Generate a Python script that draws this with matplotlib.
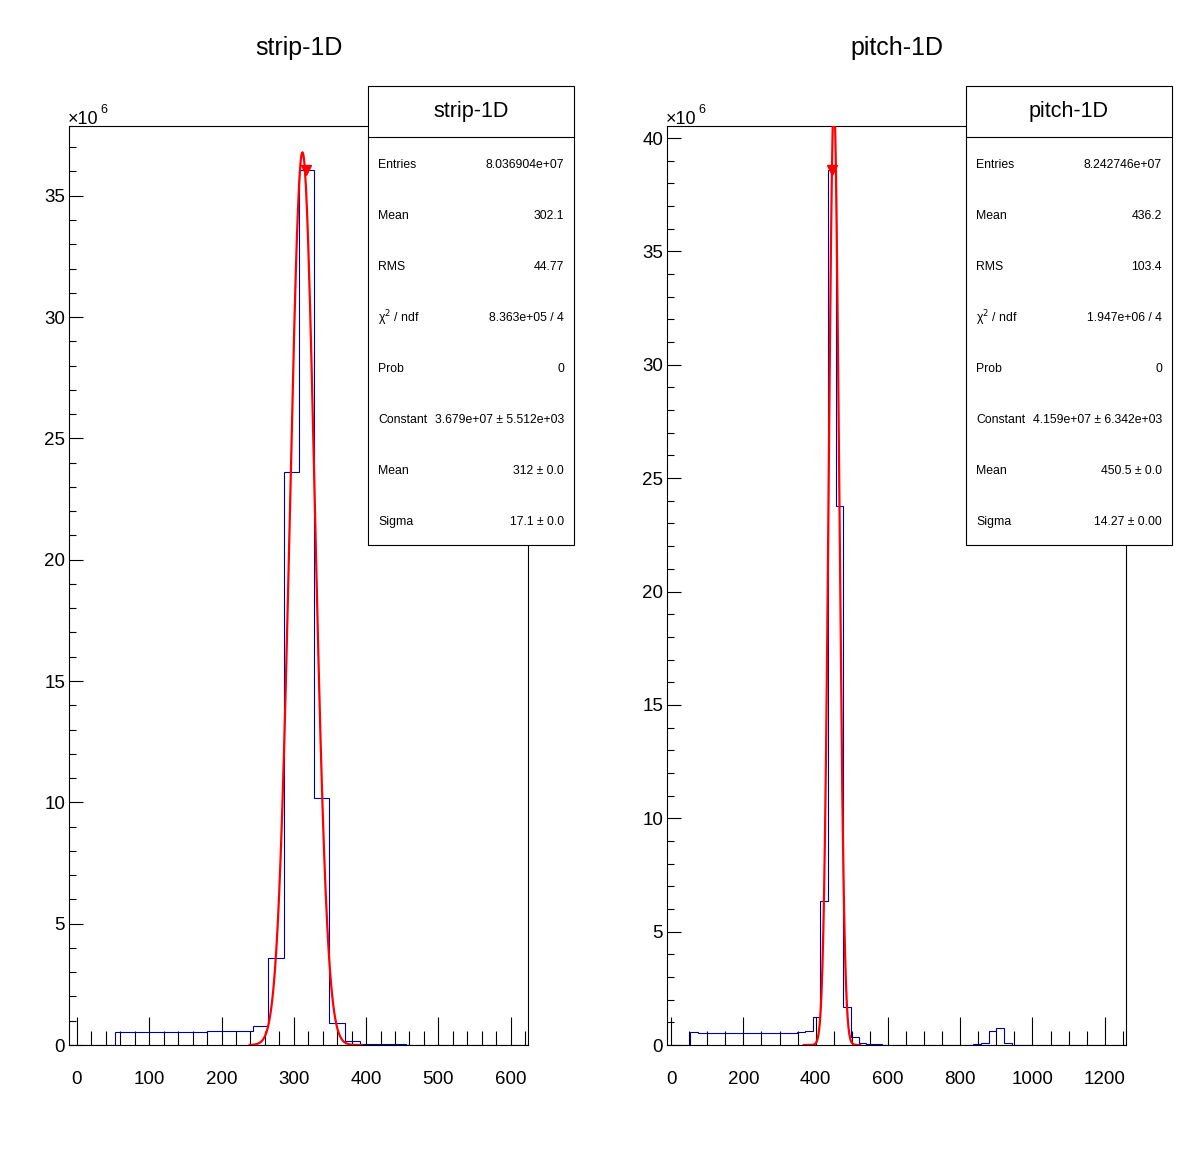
import matplotlib
matplotlib.use('Agg')
import matplotlib.pyplot as plt
import numpy as np
from matplotlib.patches import Rectangle
from matplotlib.lines import Line2D
from matplotlib.ticker import MultipleLocator, FuncFormatter

plt.rcParams.update({
    'font.family': ['Liberation Sans', 'DejaVu Sans'],
    'axes.linewidth': 0.8,
})

# ── data (counts in units of 1e6) ─────────────────────────────────
STRIP_RANGE = (-10.6, 624.5)
STRIP_COUNTS = [
    0, 0, 0, 0.52, 0.52, 0.52, 0.52, 0.52, 0.52, 0.58,
    0.58, 0.58, 0.77, 3.57, 23.61, 36.07, 10.17, 0.89, 0.15, 0.03,
    0.03, 0.03, 0, 0, 0, 0, 0, 0, 0, 0,
]
STRIP_FIT = (3.679e7, 312.0, 17.1)      # constant, mean, sigma
STRIP_FIT_RANGE = (239, 394)

PITCH_RANGE = (-10.6, 1259.6)
PITCH_COUNTS = [
    0, 0, 0, 0.59, 0.53, 0.53, 0.53, 0.53, 0.53, 0.53,
    0.53, 0.53, 0.53, 0.53, 0.53, 0.53, 0.53, 0.56, 0.62, 1.22,
    6.36, 38.6, 23.78, 1.66, 0.34, 0.07, 0.03, 0.03, 0, 0,
    0, 0, 0, 0, 0, 0, 0, 0, 0, 0,
    0.03, 0.07, 0.62, 0.74, 0.07, 0, 0, 0, 0, 0,
    0, 0, 0, 0, 0, 0, 0, 0, 0, 0,
]
PITCH_FIT = (4.159e7, 450.5, 14.27)
PITCH_FIT_RANGE = (367, 523)

STAT_NAMES = ['Entries', 'Mean', 'RMS', 'χ$^{2}$ / ndf', 'Prob', 'Constant', 'Mean', 'Sigma']
STRIP_STATS = ['8.036904e+07', '302.1', '44.77', '8.363e+05 / 4', '0',
               '3.679e+07 ± 5.512e+03', '312 ± 0.0', '17.1 ± 0.0']
PITCH_STATS = ['8.242746e+07', '436.2', '103.4', '1.947e+06 / 4', '0',
               '4.159e+07 ± 6.342e+03', '450.5 ± 0.0', '14.27 ± 0.00']

# ── figure (pixel layout helpers) ─────────────────────────────────
W, H = 1196, 1172
fig = plt.figure(figsize=(W / 100, H / 100), dpi=100)
fig.patch.set_facecolor('white')


def fx(px):
    return px / W


def fy(py):
    return 1 - py / H


HIST_COLOR = '#000099'
FIT_COLOR = '#ff0000'

PANELS = [
    dict(left=69.3, name='strip-1D', rng=STRIP_RANGE, counts=STRIP_COUNTS,
         fit=STRIP_FIT, fit_rng=STRIP_FIT_RANGE, stats=STRIP_STATS,
         xmajor=100, xminor=20, box=367.5),
    dict(left=667.3, name='pitch-1D', rng=PITCH_RANGE, counts=PITCH_COUNTS,
         fit=PITCH_FIT, fit_rng=PITCH_FIT_RANGE, stats=PITCH_STATS,
         xmajor=200, xminor=50, box=965.5),
]

AX_W = 459
AX_TOP, AX_BOT = 126, 1045

for p in PANELS:
    ax = fig.add_axes([fx(p['left']), fy(AX_BOT), AX_W / W, (AX_BOT - AX_TOP) / H])
    counts = np.array(p['counts']) * 1e6
    edges = np.linspace(p['rng'][0], p['rng'][1], len(counts) + 1)

    ax.stairs(counts, edges, color=HIST_COLOR, lw=0.8, baseline=0, zorder=3)

    # gaussian fit curve
    c, m, s = p['fit']
    xf = np.linspace(p['fit_rng'][0], p['fit_rng'][1], 200)
    ax.plot(xf, c * np.exp(-0.5 * ((xf - m) / s) ** 2),
            color=FIT_COLOR, lw=1.6, zorder=4)

    # marker on max bin
    imax = int(np.argmax(counts))
    ax.plot(0.5 * (edges[imax] + edges[imax + 1]), counts[imax], 'v',
            color=FIT_COLOR, ms=7, zorder=5)

    ax.set_xlim(*p['rng'])
    ax.set_ylim(0, counts.max() * 1.05)

    ax.xaxis.set_major_locator(MultipleLocator(p['xmajor']))
    ax.xaxis.set_minor_locator(MultipleLocator(p['xminor']))
    ax.yaxis.set_major_locator(MultipleLocator(5e6))
    ax.yaxis.set_minor_locator(MultipleLocator(1e6))
    ax.yaxis.set_major_formatter(FuncFormatter(lambda v, pos: f'{v / 1e6:g}'))

    ax.tick_params(axis='x', which='major', direction='in', length=20, width=0.8,
                   labelsize=13.5, pad=19, top=False)
    ax.tick_params(axis='x', which='minor', direction='in', length=10, width=0.8, top=False)
    ax.tick_params(axis='y', which='major', direction='in', length=10, width=0.8,
                   labelsize=13.5, pad=3, right=False)
    ax.tick_params(axis='y', which='minor', direction='in', length=5, width=0.8, right=False)

    # exponent label
    fig.text(fx(p['left'] - 1.5), fy(123.5), '×10', fontsize=13, ha='left', va='baseline')
    fig.text(fx(p['left'] + 31), fy(113), '6', fontsize=9, ha='left', va='baseline')

    # title
    cx = p['left'] + AX_W / 2
    fig.text(fx(cx), fy(48.5), p['name'], fontsize=18, ha='center', va='center')

    # stats box
    bx0, bx1, by0, by1 = p['box'], p['box'] + 206.5, 86, 545
    fig.add_artist(Rectangle((fx(bx0), fy(by1)), (bx1 - bx0) / W, (by1 - by0) / H,
                             transform=fig.transFigure, facecolor='white',
                             edgecolor='black', lw=0.8, zorder=5))
    fig.add_artist(Line2D([fx(bx0), fx(bx1)], [fy(137), fy(137)],
                          transform=fig.transFigure, color='black', lw=0.8, zorder=6))
    fig.text(fx((bx0 + bx1) / 2), fy(112), p['name'], fontsize=15.5,
             ha='center', va='center', zorder=7)
    for i, (name, val) in enumerate(zip(STAT_NAMES, p['stats'])):
        yy = fy(164.5 + 51.1 * i)
        fig.text(fx(bx0 + 10.5), yy, name, fontsize=8.8, ha='left', va='center', zorder=7)
        fig.text(fx(bx1 - 10), yy, val, fontsize=8.8, ha='right', va='center', zorder=7)

fig.savefig('out.png', dpi=100, facecolor='white')
